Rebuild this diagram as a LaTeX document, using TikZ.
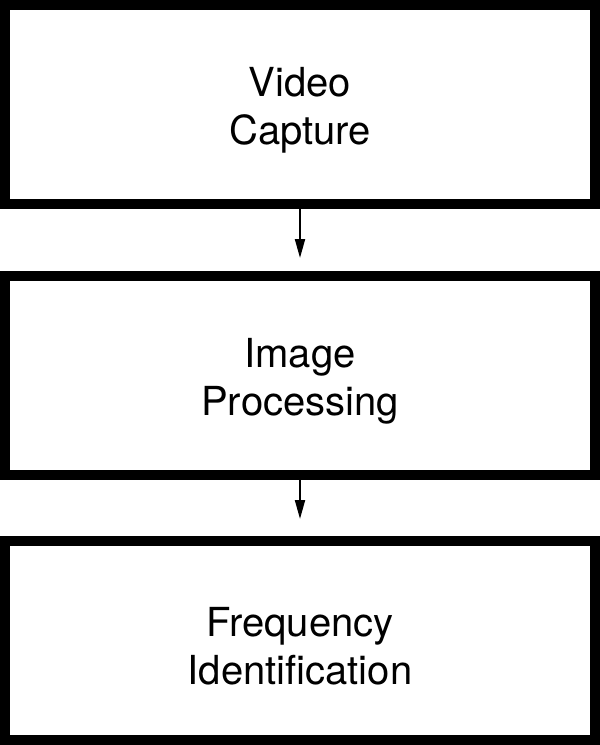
\documentclass[tikz,border=0pt]{standalone}
\usepackage{fontspec}
\setmainfont{TeX Gyre Heros}
\usetikzlibrary{arrows.meta}

\begin{document}
\begin{tikzpicture}[x=1pt,y=1pt,yscale=-1,xscale=1,
    stage/.style={draw, line width=10pt, minimum width=590pt, minimum height=199pt},
    caption/.style={align=center, yshift=-6pt, font=\fontsize{40}{48}\selectfont},
    flow/.style={line width=2pt, -{Triangle[length=19pt,width=10pt]}}]
    \useasboundingbox (0,0) rectangle (600,745);

    % Box Nodes
    \node [stage] (video) at (300,104.5) {};
    \node [stage] (image) at (300,375.5) {};
    \node [stage] (freq) at (300,640.5) {};

    % Text Nodes
    \node [caption] (videotext) at (video) {Video\\Capture};
    \node [caption] (imagetext) at (image) {Image\\Processing};
    \node [caption] (freqtext) at (freq) {Frequency\\Identification};

    % Arrows
    \draw [flow, shorten >=13pt] (video.south) -- (image.north);
    \draw [flow, shorten >=17pt] (image.south) -- (freq.north);
\end{tikzpicture}
\end{document}
